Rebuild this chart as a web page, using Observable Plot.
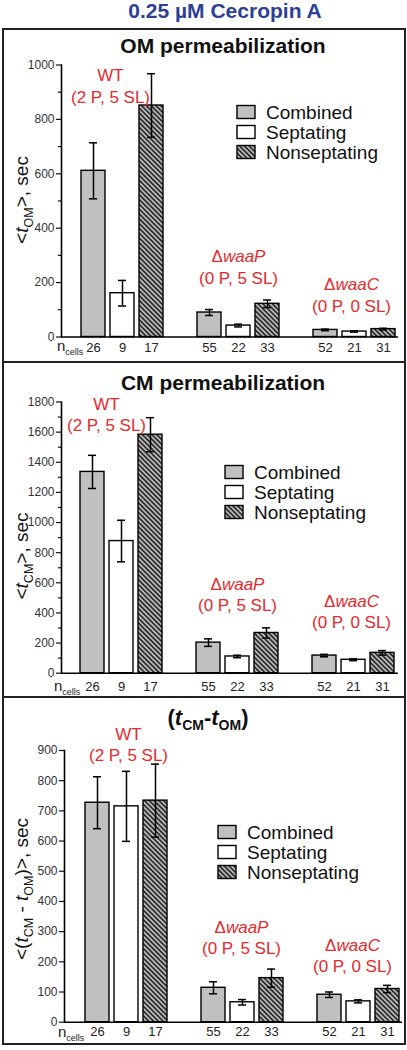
<!DOCTYPE html>
<html>
<head>
<meta charset="utf-8">
<script src="https://cdn.jsdelivr.net/npm/d3@7"></script>
<script src="https://cdn.jsdelivr.net/npm/@observablehq/plot@0.6"></script>
<style>
  body { margin: 0; background: #fff; width: 407px; height: 1050px; position: relative; overflow: hidden;
         font-family: "Liberation Sans", Arial, Helvetica, sans-serif; }
  .abs { position: absolute; }
  .sep { position: absolute; left: 2px; width: 404px; height: 2px; background: #222; }
</style>
</head>
<body>
<svg width="0" height="0" style="position:absolute">
  <defs>
    <pattern id="hatch" patternUnits="userSpaceOnUse" width="3.4" height="3.4" patternTransform="rotate(45)">
      <rect width="3.4" height="3.4" fill="#b8b8b8"></rect>
      <line x1="0" y1="1.7" x2="3.4" y2="1.7" stroke="#1a1a1a" stroke-width="1.5"></line>
    </pattern>
  </defs>
</svg>
<script>
// ---------------- data ----------------
const groups = ["WT", "\u0394waaP", "\u0394waaC"];
const groupNotes = ["(2 P, 5 SL)", "(0 P, 5 SL)", "(0 P, 0 SL)"];
const types = ["Combined", "Septating", "Nonseptating"];
const nCells = [26, 9, 17, 55, 22, 33, 52, 21, 31];

const omMean = [611, 161, 851, 90, 42, 122, 26, 20, 29];
const omErr  = [103, 47, 117, 11, 5, 14, 3, 2, 3];

const cmMean = [1336, 877, 1583, 203, 111, 267, 117, 89, 135];
const cmErr  = [110, 138, 113, 25, 8, 34, 8, 6, 15];

const diffMean = [727, 715, 734, 114, 66, 146, 91, 69, 110];
const diffErr  = [86, 116, 121, 20, 9, 30, 9, 5, 12];

const omTicks = [0, 200, 400, 600, 800, 1000];
const omMinor = [100, 300, 500, 700, 900];
const cmTicks = [0, 200, 400, 600, 800, 1000, 1200, 1400, 1600, 1800];
const cmMinor = [100, 300, 500, 700, 900, 1100, 1300, 1500, 1700];
const diffTicks = [0, 100, 200, 300, 400, 500, 600, 700, 800, 900];
const diffMinor = [];

// ---------------- styles / layout ----------------
const FONT = '"Liberation Sans", Arial, Helvetica, sans-serif';
const typeFill = ["#c0c0c0", "#ffffff", "url(#hatch)"];
const RED = "#e8282b";
const SVGNS = "http://www.w3.org/2000/svg";

const panels = [
  { top: 29, height: 333, mean: omMean, err: omErr, domain: [0, 1000], ticks: omTicks, minor: omMinor,
    mt: 35.5, mb: 25.5, ml: 61, mr: 9, il: 18, ir: 2,
    title: [{t: "OM permeabilization"}], titleX: 223, titleY: 24, titleSize: 21,
    ylabel: [{t: "<"}, {t: "t", i: true}, {t: "OM", sub: true}, {t: ">, sec"}], ylabelY: 171,
    legendX: 237, legendTextX: 266, legendY: [83, 103, 123],
    nDy: 10.5, nX: 57, nY: 322,
    labelY: [928, 261, 158], labelDx: [-12, 0, -3], lineHeight: 1.3 },
  { top: 362, height: 335, mean: cmMean, err: cmErr, domain: [0, 1800], ticks: cmTicks, minor: cmMinor,
    mt: 39.5, mb: 24.3, ml: 61, mr: 9, il: 17, ir: 2,
    title: [{t: "CM permeabilization"}], titleX: 223, titleY: 28, titleSize: 21,
    ylabel: [{t: "<"}, {t: "t", i: true}, {t: "CM", sub: true}, {t: ">, sec"}], ylabelY: 194,
    legendX: 225, legendTextX: 254, legendY: [110, 130, 150],
    nDy: 14, nX: 54, nY: 329,
    labelY: [1723, 528, 415], labelDx: [-15, 0, -2], lineHeight: 1.24 },
  { top: 697, height: 346, mean: diffMean, err: diffErr, domain: [0, 900], ticks: diffTicks, minor: diffMinor,
    mt: 53, mb: 21.3, ml: 64, mr: 5, il: 19, ir: 2,
    title: [{t: "("}, {t: "t", i: true}, {t: "CM", sub: true}, {t: "-"}, {t: "t", i: true}, {t: "OM", sub: true}, {t: ")"}],
    titleX: 208, titleY: 28, titleSize: 22,
    ylabel: [{t: "<("}, {t: "t", i: true}, {t: "CM", sub: true}, {t: " - "}, {t: "t", i: true}, {t: "OM", sub: true}, {t: ")>, sec"}],
    ylabelY: 192,
    legendX: 218, legendTextX: 247, legendY: [135, 155, 175],
    nDy: 10, nX: 58, nY: 340,
    labelY: [923, 283, 223], labelDx: [2, -1, -6], lineHeight: 1.22 }
];

// ---------------- helpers ----------------
function el(parent, tag, attrs, text) {
  const e = document.createElementNS(SVGNS, tag);
  for (const k in attrs) e.setAttribute(k, attrs[k]);
  if (text != null) e.textContent = text;
  parent.appendChild(e);
  return e;
}
function richText(textEl, spans, subSize, shift) {
  let inSub = false;
  for (const s of spans) {
    const a = {};
    if (s.i) a["font-style"] = "italic";
    if (s.sub) { a["font-size"] = subSize; if (!inSub) a.dy = shift; inSub = true; }
    else if (inSub) { a.dy = -shift; inSub = false; }
    el(textEl, "tspan", a, s.t);
  }
}

// ---------------- page title ----------------
const head = el(document.body, "svg", {width: 407, height: 29, class: "abs", style: "left:0;top:0"});
el(head, "text", {x: 225, y: 18, "text-anchor": "middle", "font-size": 21, "font-weight": "bold",
  fill: "#2b3f98", "font-family": FONT}, "0.25 \u00B5M Cecropin A");

// ---------------- panels ----------------
panels.forEach(p => {
  const rows = nCells.map((n, i) => ({
    slot: Math.floor(i / 3) * 4 + (i % 3),
    group: groups[Math.floor(i / 3)],
    type: types[i % 3],
    value: p.mean[i],
    err: p.err[i],
    n
  }));
  const groupRows = groups.map((g, j) => ({slot: j * 4 + 1, group: g, note: groupNotes[j], y: p.labelY[j]}));

  const chart = Plot.plot({
    width: 407,
    height: p.height,
    marginTop: p.mt, marginBottom: p.mb, marginLeft: p.ml, marginRight: p.mr,
    style: {fontFamily: FONT, background: "transparent", overflow: "visible", color: "#111"},
    x: {type: "band", domain: d3.range(11), paddingInner: 0.18, paddingOuter: 0, insetLeft: p.il, insetRight: p.ir, axis: null},
    y: {domain: p.domain, axis: null},
    color: {type: "ordinal", domain: types, range: typeFill},
    marks: [
      Plot.barY(rows, {x: "slot", y: "value", fill: "type", stroke: "#000", strokeWidth: 1.4}),
      Plot.ruleX(rows, {x: "slot", y1: d => d.value - d.err, y2: d => d.value + d.err, stroke: "#000", strokeWidth: 1.5}),
      Plot.tickY(rows, {x: "slot", y: d => d.value + d.err, insetLeft: 8, insetRight: 8, stroke: "#000", strokeWidth: 1.5}),
      Plot.tickY(rows, {x: "slot", y: d => d.value - d.err, insetLeft: 8, insetRight: 8, stroke: "#000", strokeWidth: 1.5}),
      Plot.axisY({ticks: p.ticks, tickSize: 5, tickPadding: 2, fontSize: 12, tickFormat: d => String(d),
        stroke: "#111", fill: "#333", strokeWidth: 1.2}),
      ...(p.minor.length ? [Plot.axisY({ticks: p.minor, tickSize: 3, tickFormat: () => "", stroke: "#111", strokeWidth: 1.2})] : []),
      Plot.frame({anchor: "left", stroke: "#000", strokeWidth: 1.6}),
      Plot.ruleY([0], {stroke: "#000", strokeWidth: 1.6}),
      Plot.text(rows, {x: "slot", y: 0, text: "n", dy: p.nDy, fontSize: 13, fill: "#222"}),
      ...groupRows.map((g, j) => Plot.text([g], {
        x: "slot", y: "y", text: d => d.group + "\n" + d.note, dx: p.labelDx[j],
        fontSize: 17, fill: RED, lineHeight: p.lineHeight
      }))
    ]
  });

  chart.classList.add("abs");
  chart.style.left = "0px";
  chart.style.top = p.top + "px";
  document.body.appendChild(chart);
  const svg = chart;

  // italic gene names after the Δ sign
  svg.querySelectorAll("text, tspan").forEach(t => {
    if (t.children.length === 0 && t.textContent.startsWith("\u0394")) {
      const rest = t.textContent.slice(1);
      t.textContent = "\u0394";
      el(t, "tspan", {"font-style": "italic"}, rest);
    }
  });

  // panel title
  const tt = el(svg, "text", {x: p.titleX, y: p.titleY, "text-anchor": "middle", "font-size": p.titleSize,
    "font-weight": "bold", fill: "#111", "font-family": FONT});
  richText(tt, p.title, 14, 5);

  // y label
  const yl = el(svg, "text", {transform: `translate(28,${p.ylabelY}) rotate(-90)`, "text-anchor": "middle",
    "font-size": 19, fill: "#111", "font-family": FONT});
  richText(yl, p.ylabel, 12.5, 5);

  // n cells label
  const nl = el(svg, "text", {x: p.nX, y: p.nY, "text-anchor": "start", "font-size": 15, fill: "#222", "font-family": FONT});
  richText(nl, [{t: "n"}, {t: "cells", sub: true}], 9, 4);

  // legend
  types.forEach((t, k) => {
    const cy = p.legendY[k];
    el(svg, "rect", {x: p.legendX, y: cy - 6.5, width: 18, height: 13, fill: typeFill[k], stroke: "#000", "stroke-width": 1.4});
    el(svg, "text", {x: p.legendTextX, y: cy, "text-anchor": "start", "dominant-baseline": "central",
      "font-size": 19, fill: "#111", "font-family": FONT}, t);
  });
});

// ---------------- frame borders ----------------
const frame = document.createElement("div");
frame.style.cssText = "position:absolute;left:2px;top:28px;width:404px;height:1017px;box-sizing:border-box;border:2px solid #222;";
document.body.appendChild(frame);
[361, 696].forEach(y => {
  const s = document.createElement("div");
  s.className = "sep";
  s.style.top = y + "px";
  document.body.appendChild(s);
});
</script>
</body>
</html>
